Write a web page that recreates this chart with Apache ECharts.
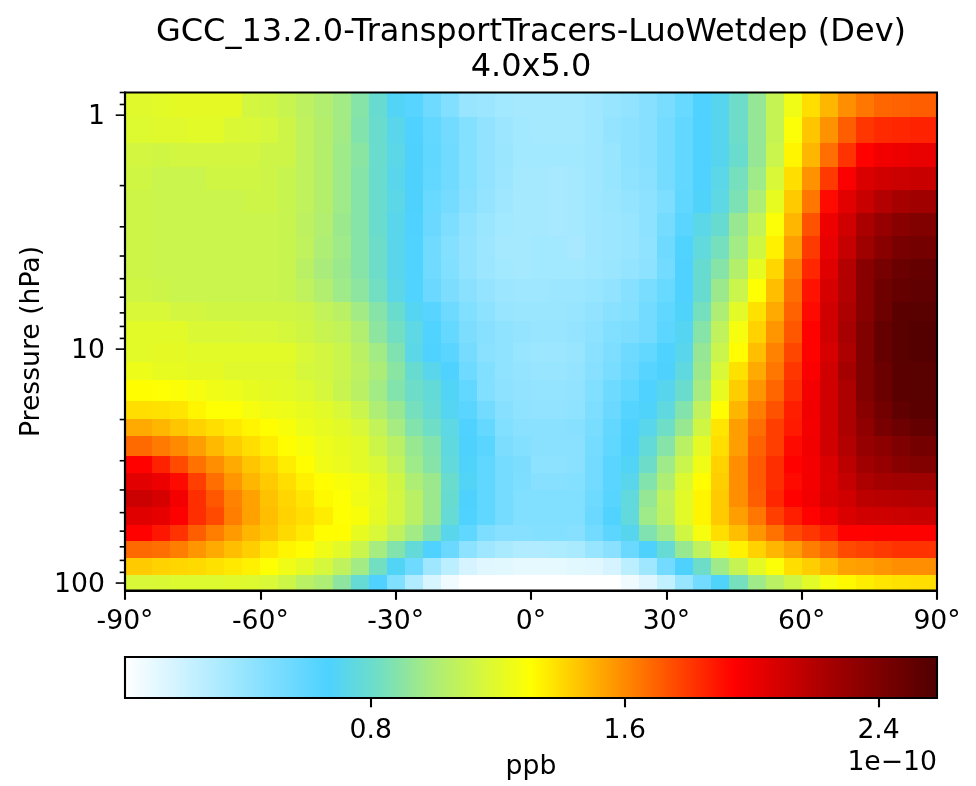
<!DOCTYPE html>
<html><head><meta charset="utf-8">
<style>html,body{margin:0;padding:0;background:#fff}#c{width:976px;height:786px}</style>
<script src="https://cdn.jsdelivr.net/npm/echarts@6/dist/echarts.min.js"></script>
</head><body><div id="c"></div>
<script>
const lonEdges=[-90,-84,-80,-76,-72,-68,-64,-60,-56,-52,-48,-44,-40,-36,-32,-28,-24,-20,-16,-12,-8,-4,0,4,8,12,16,20,24,28,32,36,40,44,48,52,56,60,64,68,72,76,80,84,90];
const presEdges=[0.80,1.02,1.31,1.66,2.09,2.62,3.28,4.11,5.01,6.26,7.62,9.40,11.3,13.6,16.6,19.8,23.6,28.5,33.7,40.2,47.5,56.2,66.4,78.5,92.1,107.6];
const xTicks=[-90,-60,-30,0,30,60,90];
const yMajor=[1,10,100];
const yMinor=[0.8,0.9,2,3,4,5,6,7,8,9,20,30,40,50,60,70,80,90];
const barTicks=[0.8,1.6,2.4];
const colorMin=0.026,colorMax=2.584;
const palette=['#ffffff','#d3f4ff','#a6e9ff','#7addff','#4dd2ff','#70dec4','#a8ec7e','#d4f73e','#ffff00','#ffc000','#ff8000','#ff4000','#ff0000','#d00000','#a00000','#780000','#500000'];
const r00=[1.19,1.20,1.21,1.21,1.21,1.21,1.14,1.13,1.10,1.06,1.02,.97,.89,.79,.69,.63,.55,.48,.40,.38,.36,.35,.35,.35,.35,.37,.40,.42,.46,.51,.57,.66,.71,.81,.93,1.09,1.25,1.39,1.49,1.59,1.65,1.69,1.70,1.71];
const r01=[1.18,1.19,1.19,1.20,1.20,1.17,1.16,1.15,1.12,1.07,1.03,.97,.88,.80,.72,.66,.59,.53,.47,.42,.38,.36,.35,.35,.35,.37,.41,.44,.46,.52,.59,.66,.71,.81,.93,1.09,1.29,1.45,1.58,1.71,1.81,1.84,1.85,1.86];
const r02=[1.14,1.13,1.14,1.14,1.14,1.14,1.14,1.12,1.12,1.07,1.03,.96,.90,.80,.73,.67,.60,.54,.47,.42,.39,.36,.36,.36,.36,.37,.40,.44,.46,.52,.59,.66,.71,.80,.93,1.11,1.33,1.49,1.67,1.82,1.94,1.99,2.00,2.02];
const r03=[1.13,1.11,1.11,1.11,1.13,1.13,1.13,1.12,1.10,1.07,1.03,.96,.89,.80,.72,.67,.59,.54,.47,.42,.38,.35,.35,.34,.35,.37,.40,.43,.45,.52,.59,.66,.73,.84,.96,1.16,1.39,1.58,1.80,1.96,2.07,2.10,2.12,2.13];
const r04=[1.12,1.11,1.11,1.11,1.11,1.11,1.12,1.12,1.10,1.07,1.03,.96,.89,.80,.73,.67,.57,.52,.46,.41,.37,.35,.35,.34,.35,.37,.39,.41,.44,.49,.60,.68,.74,.86,1.01,1.22,1.44,1.65,1.92,2.04,2.13,2.20,2.24,2.26];
const r05=[1.12,1.11,1.11,1.11,1.11,1.11,1.11,1.11,1.10,1.06,1.02,.95,.89,.80,.72,.66,.56,.49,.43,.39,.36,.35,.35,.34,.35,.37,.38,.40,.44,.52,.62,.73,.79,.94,1.08,1.29,1.49,1.74,2.00,2.10,2.23,2.30,2.36,2.39];
const r06=[1.12,1.11,1.11,1.11,1.11,1.11,1.11,1.11,1.10,1.07,1.01,.96,.89,.81,.72,.65,.54,.47,.42,.38,.35,.35,.36,.36,.34,.37,.38,.40,.43,.55,.65,.76,.84,.97,1.13,1.34,1.55,1.80,2.02,2.14,2.27,2.36,2.42,2.44];
const r07=[1.12,1.11,1.11,1.11,1.11,1.11,1.11,1.11,1.10,1.05,.99,.95,.89,.81,.72,.65,.54,.48,.42,.38,.36,.35,.36,.36,.36,.37,.39,.41,.44,.53,.66,.79,.89,1.03,1.22,1.41,1.63,1.85,2.05,2.20,2.36,2.43,2.48,2.50];
const r08=[1.13,1.12,1.11,1.11,1.11,1.11,1.11,1.11,1.10,1.07,1.02,.96,.91,.83,.73,.65,.56,.50,.45,.41,.38,.37,.37,.38,.38,.40,.42,.46,.51,.57,.66,.79,.95,1.11,1.30,1.47,1.67,1.90,2.08,2.20,2.36,2.46,2.50,2.52];
const r09=[1.16,1.16,1.14,1.14,1.13,1.13,1.13,1.13,1.13,1.12,1.08,1.05,.97,.89,.80,.70,.63,.55,.48,.44,.40,.39,.39,.39,.40,.42,.45,.47,.53,.60,.68,.84,1.01,1.20,1.38,1.52,1.70,1.92,2.10,2.22,2.36,2.47,2.54,2.55];
const r10=[1.20,1.20,1.20,1.17,1.17,1.17,1.16,1.16,1.15,1.13,1.10,1.08,1.02,.91,.83,.74,.65,.58,.50,.46,.43,.41,.40,.40,.41,.44,.48,.50,.53,.61,.70,.89,1.07,1.27,1.42,1.57,1.73,1.94,2.10,2.24,2.39,2.50,2.55,2.57];
const r11=[1.20,1.21,1.21,1.20,1.20,1.20,1.20,1.20,1.20,1.16,1.14,1.11,1.05,.97,.87,.73,.66,.62,.52,.45,.43,.40,.38,.38,.40,.45,.49,.55,.59,.66,.72,.93,1.11,1.31,1.47,1.62,1.77,1.94,2.08,2.22,2.39,2.50,2.55,2.57];
const r12=[1.24,1.22,1.22,1.21,1.21,1.19,1.19,1.19,1.19,1.15,1.14,1.11,1.06,1.00,.90,.79,.72,.66,.55,.48,.43,.41,.40,.40,.41,.46,.51,.56,.63,.67,.75,.95,1.16,1.38,1.52,1.65,1.81,1.96,2.10,2.25,2.39,2.48,2.54,2.55];
const r13=[1.31,1.30,1.29,1.27,1.25,1.24,1.22,1.21,1.20,1.18,1.15,1.10,1.05,.97,.88,.81,.77,.69,.59,.48,.44,.42,.41,.41,.42,.48,.55,.60,.66,.71,.80,.98,1.22,1.43,1.57,1.69,1.83,1.98,2.10,2.22,2.39,2.48,2.54,2.55];
const r14=[1.39,1.38,1.37,1.33,1.30,1.30,1.27,1.25,1.24,1.22,1.20,1.16,1.11,1.01,.94,.84,.78,.70,.62,.53,.46,.43,.42,.42,.43,.49,.56,.64,.68,.75,.88,1.07,1.31,1.49,1.63,1.74,1.87,1.99,2.10,2.22,2.36,2.45,2.52,2.54];
const r15=[1.52,1.49,1.45,1.42,1.39,1.36,1.33,1.31,1.28,1.24,1.22,1.20,1.16,1.08,.98,.88,.82,.74,.66,.58,.48,.45,.45,.45,.46,.51,.59,.66,.72,.82,.94,1.13,1.37,1.55,1.67,1.79,1.88,1.98,2.10,2.22,2.33,2.42,2.47,2.50];
const r16=[1.68,1.64,1.60,1.55,1.48,1.43,1.39,1.35,1.31,1.28,1.24,1.22,1.20,1.12,1.05,.94,.88,.75,.67,.62,.50,.47,.45,.45,.45,.52,.60,.67,.77,.89,1.05,1.21,1.39,1.55,1.70,1.79,1.92,1.99,2.10,2.20,2.30,2.34,2.40,2.44];
const r17=[1.94,1.86,1.76,1.66,1.59,1.52,1.45,1.41,1.35,1.31,1.25,1.23,1.20,1.16,1.08,.96,.89,.76,.68,.60,.52,.50,.44,.44,.45,.53,.62,.69,.81,.96,1.11,1.25,1.42,1.59,1.72,1.83,1.94,1.98,2.07,2.17,2.26,2.30,2.36,2.39];
const r18=[2.04,2.01,1.92,1.79,1.67,1.57,1.49,1.44,1.39,1.34,1.31,1.28,1.26,1.21,1.13,1.01,.95,.80,.69,.60,.52,.49,.46,.46,.47,.53,.62,.72,.88,1.01,1.18,1.31,1.43,1.59,1.72,1.83,1.92,1.98,2.06,2.14,2.22,2.25,2.26,2.27];
const r19=[2.12,2.08,1.98,1.83,1.73,1.62,1.54,1.46,1.41,1.37,1.32,1.30,1.25,1.22,1.14,1.05,.95,.79,.67,.60,.52,.48,.48,.48,.48,.55,.63,.76,.93,1.07,1.20,1.33,1.44,1.59,1.71,1.85,1.94,1.99,2.07,2.10,2.17,2.18,2.19,2.20];
const r20=[2.05,2.03,1.95,1.83,1.76,1.63,1.54,1.47,1.42,1.39,1.35,1.30,1.28,1.21,1.14,1.05,.95,.78,.66,.60,.52,.48,.48,.48,.48,.56,.65,.76,.96,1.06,1.20,1.33,1.44,1.55,1.65,1.79,1.87,1.94,2.00,2.07,2.10,2.11,2.12,2.13];
const r21=[1.94,1.89,1.82,1.71,1.63,1.56,1.49,1.45,1.40,1.36,1.31,1.31,1.22,1.16,1.07,.97,.87,.72,.60,.49,.46,.46,.47,.47,.46,.53,.61,.71,.87,.96,1.13,1.27,1.39,1.47,1.57,1.66,1.76,1.81,1.86,1.94,1.94,1.95,1.95,1.95];
const r22=[1.68,1.67,1.63,1.57,1.52,1.47,1.43,1.37,1.33,1.31,1.25,1.20,1.11,.98,.88,.77,.66,.56,.44,.37,.33,.31,.31,.32,.33,.40,.45,.56,.67,.78,.94,1.07,1.22,1.34,1.42,1.49,1.55,1.63,1.68,1.76,1.78,1.80,1.82,1.82];
const r23=[1.44,1.42,1.41,1.40,1.38,1.36,1.34,1.30,1.25,1.21,1.15,1.07,.97,.83,.69,.55,.37,.27,.18,.14,.13,.12,.12,.12,.13,.14,.18,.27,.37,.53,.67,.81,.96,1.09,1.21,1.29,1.39,1.43,1.48,1.54,1.55,1.57,1.59,1.59];
const r24=[1.16,1.17,1.18,1.18,1.18,1.19,1.18,1.16,1.12,1.05,1.01,.91,.78,.66,.48,.31,.17,.08,.03,.03,.03,.03,.03,.03,.03,.03,.03,.08,.15,.25,.40,.53,.68,.84,.96,1.05,1.12,1.20,1.27,1.32,1.35,1.37,1.38,1.39];
const rows=[r00,r01,r02,r03,r04,r05,r06,r07,r08,r09,r10,r11,r12,r13,r14,r15,r16,r17,r18,r19,r20,r21,r22,r23,r24];

rows.forEach((r,i)=>{if(r.length!==44)throw new Error('row '+i+' has '+r.length);});
const cells=[];
rows.forEach((r,j)=>r.forEach((v,i)=>cells.push([lonEdges[i],lonEdges[i+1],presEdges[j],presEdges[j+1],v])));

const FF='"DejaVu Sans"';
const LS=26.67;
const LW=2.1;
const chart=echarts.init(document.getElementById('c'),null,{renderer:'canvas'});
chart.setOption({
  animation:false,backgroundColor:'#fff',
  textStyle:{fontFamily:FF},
  title:[
    {text:'GCC_13.2.0-TransportTracers-LuoWetdep (Dev)\n4.0x5.0',left:531,top:15,textAlign:'center',padding:0,
     textStyle:{fontFamily:FF,fontSize:32,fontWeight:'normal',color:'#000',lineHeight:35}},
    {text:'1e\u221210',left:937,top:750,textAlign:'right',padding:0,textStyle:{fontFamily:FF,fontSize:LS,fontWeight:'normal',color:'#000'}}
  ],
  grid:[
    {left:125,right:39,top:92.5,height:498,show:true,z:5,backgroundColor:'transparent',borderColor:'#000',borderWidth:LW},
    {left:125,right:39,top:657,height:41,show:true,z:10,backgroundColor:'transparent',borderColor:'#000',borderWidth:LW}
  ],
  xAxis:[
    {type:'value',gridIndex:0,min:-90,max:90,interval:30,z:6,splitLine:{show:false},
     axisLine:{show:true,onZero:false,lineStyle:{color:'#000',width:LW}},
     axisTick:{length:9.3,lineStyle:{color:'#000',width:LW}},
     axisLabel:{fontFamily:FF,fontSize:LS,color:'#000',margin:18,formatter:v=>v+'°',hideOverlap:false,showMinLabel:true,showMaxLabel:true}},
    {type:'value',gridIndex:1,min:colorMin,max:colorMax,z:11,splitLine:{show:false},
     axisLine:{show:true,onZero:false,lineStyle:{color:'#000',width:LW}},
     axisTick:{length:9.3,lineStyle:{color:'#000',width:LW},customValues:barTicks},
     axisLabel:{fontFamily:FF,fontSize:LS,color:'#000',margin:20,customValues:barTicks,formatter:v=>v.toFixed(1)},
     name:'ppb',nameLocation:'middle',nameGap:56,nameTextStyle:{fontFamily:FF,fontSize:LS,color:'#000'}}
  ],
  yAxis:[
    {type:'log',logBase:10,gridIndex:0,min:presEdges[0],max:presEdges[presEdges.length-1],inverse:true,z:6,splitLine:{show:false},minorTick:{show:false},
     axisLine:{show:true,onZero:false,lineStyle:{color:'#000',width:LW}},axisTick:{show:false},
     axisLabel:{show:false},
     name:'Pressure (hPa)',nameLocation:'middle',nameGap:79,nameRotate:90,nameTextStyle:{fontFamily:FF,fontSize:LS,color:'#000'}},
    {type:'value',gridIndex:1,min:0,max:1,show:false}
  ],
  visualMap:{type:'continuous',seriesIndex:0,dimension:4,min:colorMin,max:colorMax,orient:'horizontal',left:125,top:657,
    itemWidth:41,itemHeight:812,padding:0,text:null,calculable:false,realtime:false,hoverLink:false,silent:true,showLabel:false,
    inRange:{color:palette},z:4},
  series:[
    {type:'custom',coordinateSystem:'cartesian2d',xAxisIndex:0,yAxisIndex:0,z:2,silent:true,clip:true,
     encode:{x:[0,1],y:[2,3]},data:cells,
     renderItem(params,api){
       const a=api.coord([api.value(0),api.value(2)]),b=api.coord([api.value(1),api.value(3)]);
       const x0=Math.round(a[0]),x1=Math.round(b[0]),y0=Math.round(Math.min(a[1],b[1])),y1=Math.round(Math.max(a[1],b[1]));
       return {type:'rect',shape:{x:x0,y:y0,width:x1-x0,height:y1-y0},style:{fill:api.visual('color')}};
     }},
    {type:'custom',coordinateSystem:'cartesian2d',xAxisIndex:0,yAxisIndex:0,z:6,silent:true,clip:false,
     data:yMajor.map(p=>[p,9.3,p]).concat(yMinor.map(p=>[p,5.3,0])),encode:{y:0},
     renderItem(params,api){
       const pt=api.coord([-90,api.value(0)]);const L=api.value(1),lab=api.value(2);
       const line={type:'line',shape:{x1:pt[0],y1:pt[1],x2:pt[0]-L,y2:pt[1]},style:{stroke:'#000',lineWidth:1.6}};
       if(!lab)return line;
       return {type:'group',children:[line,{type:'text',x:pt[0]-20,y:pt[1]+2,style:{text:String(lab),fill:'#000',font:LS+'px '+FF,align:'right',verticalAlign:'middle'}}]};
     }}
  ]
});
</script></body></html>
